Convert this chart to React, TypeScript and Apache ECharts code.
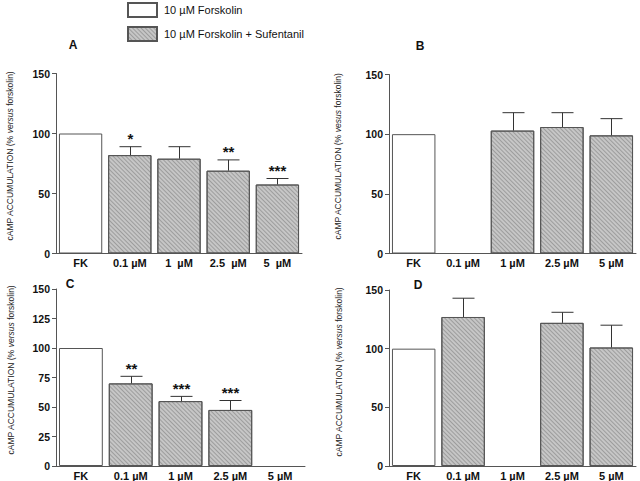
import React, { useEffect, useRef } from "react";
import * as echarts from "echarts";

// ---- data ----
const catsA = ["FK", "0.1 µM", "1  µM", "2.5  µM", "5  µM"];
const cats = ["FK", "0.1 µM", "1 µM", "2.5 µM", "5 µM"];

const meanA = [100, 82, 79, 69, 57.5];
const errA = [null, 7, 10, 9, 5];
const sigA = ["", "*", "", "**", "***"];

const meanB = [100, null, 103, 106, 99];
const errB = [null, null, 15, 12, 14];
const sigB = ["", "", "", "", ""];

const meanC = [100, 70, 55, 47.5, null];
const errC = [null, 6, 4, 8, null];
const sigC = ["", "**", "***", "***", ""];

const meanD = [100, 127, null, 122, 101];
const errD = [null, 16, null, 9, 19];
const sigD = ["", "", "", "", ""];

const ticksA = [0, 50, 100, 150];
const ticksC = [0, 25, 50, 75, 100, 125, 150];

const FK_NAME = "10 µM Forskolin";
const TR_NAME = "10 µM Forskolin + Sufentanil";

const FONT = "Liberation Sans, Arial, sans-serif";

type Panel = {
  label: string;
  cats: string[];
  mean: (number | null)[];
  err: (number | null)[];
  sig: string[];
  ticks: number[];
  versus: string;
  left: number;
  top: number;
  width: number;
  height: number;
  nameGap: number;
  namePad: number;
  labelX: number;
  labelY: number;
};

const panels: Panel[] = [
  { label: "A", cats: catsA, mean: meanA, err: errA, sig: sigA, ticks: ticksA, versus: "versus",
    left: 56, top: 73.5, width: 246, height: 180, nameGap: 42, namePad: 15, labelX: 73, labelY: 45 },
  { label: "B", cats: cats, mean: meanB, err: errB, sig: sigB, ticks: ticksA, versus: "vesus",
    left: 389, top: 74.5, width: 247, height: 179, nameGap: 47, namePad: 15, labelX: 420, labelY: 46 },
  { label: "C", cats: cats, mean: meanC, err: errC, sig: sigC, ticks: ticksC, versus: "versus",
    left: 56, top: 289, width: 249, height: 177.5, nameGap: 41, namePad: 15, labelX: 70, labelY: 284 },
  { label: "D", cats: cats, mean: meanD, err: errD, sig: sigD, ticks: ticksA, versus: "versus",
    left: 389, top: 290, width: 247, height: 177.7, nameGap: 46, namePad: 12, labelX: 418, labelY: 285 },
];

function buildOption() {
  const grid: any[] = [];
  const xAxis: any[] = [];
  const yAxis: any[] = [];
  const series: any[] = [];
  const graphic: any[] = [];

  panels.forEach((p, k) => {
    grid.push({ left: p.left, top: p.top, width: p.width, height: p.height, containLabel: false });
    xAxis.push({
      type: "category",
      gridIndex: k,
      data: p.cats,
      axisLine: { show: true, lineStyle: { color: "#555", width: 1 } },
      axisTick: { show: false },
      axisLabel: { fontFamily: FONT, fontWeight: "bold", fontSize: 11, color: "#111", margin: 4, interval: 0 },
      splitLine: { show: false },
    });
    const interval = p.ticks[1] - p.ticks[0];
    yAxis.push({
      type: "value",
      gridIndex: k,
      min: p.ticks[0],
      max: p.ticks[p.ticks.length - 1],
      interval,
      axisLine: { show: true, lineStyle: { color: "#555", width: 1 } },
      axisTick: { show: true, length: 4, lineStyle: { color: "#555" } },
      axisLabel: { fontFamily: FONT, fontWeight: "bold", fontSize: 10.5, color: "#111", margin: 6 },
      splitLine: { show: false },
      name: "cAMP ACCUMULATION (% {i|" + p.versus + "} forskolin)",
      nameLocation: "middle",
      nameGap: p.nameGap,
      nameRotate: 90,
      nameTextStyle: {
        fontFamily: FONT,
        fontSize: 8.5,
        color: "#222",
        padding: [0, 0, 0, p.namePad],
        rich: { i: { fontFamily: FONT, fontSize: 8.5, fontStyle: "italic", color: "#222" } },
      },
    });

    series.push({
      type: "bar",
      name: FK_NAME,
      xAxisIndex: k,
      yAxisIndex: k,
      data: p.mean.map((v, i) => (i === 0 ? v : null)),
      barWidth: "88%",
      barGap: "-100%",
      itemStyle: { color: "#ffffff", borderColor: "#555", borderWidth: 1 },
    });
    series.push({
      type: "bar",
      name: TR_NAME,
      xAxisIndex: k,
      yAxisIndex: k,
      data: p.mean.map((v, i) => (i === 0 ? null : v)),
      barWidth: "88%",
      barGap: "-100%",
      itemStyle: {
        color: "#c6c6c6",
        borderColor: "#555",
        borderWidth: 1,
        decal: {
          symbol: "rect",
          symbolSize: 1,
          dashArrayX: [1, 0],
          dashArrayY: [1, 2],
          rotation: Math.PI / 4,
          color: "rgba(80,80,80,0.35)",
        },
      },
    });

    const sig = p.sig;
    const errData: number[][] = [];
    p.mean.forEach((m, i) => {
      const e = p.err[i];
      if (m != null && e != null) errData.push([i, m, e]);
    });
    series.push({
      type: "custom",
      xAxisIndex: k,
      yAxisIndex: k,
      z: 5,
      data: errData,
      renderItem: (params: any, api: any) => {
        const i = api.value(0);
        const m = api.value(1);
        const e = api.value(2);
        const p0 = api.coord([i, m]);
        const p1 = api.coord([i, m + e]);
        const x = Math.round(p0[0]) + 0.5;
        const children: any[] = [
          { type: "line", shape: { x1: x, y1: p0[1], x2: x, y2: p1[1] }, style: { stroke: "#333", lineWidth: 1 } },
          { type: "line", shape: { x1: x - 11, y1: p1[1], x2: x + 11, y2: p1[1] }, style: { stroke: "#333", lineWidth: 1 } },
        ];
        const s = sig[i];
        if (s) {
          children.push({
            type: "text",
            x: x,
            y: p1[1] - 8,
            style: {
              text: s,
              fontFamily: FONT,
              fontWeight: "bold",
              fontSize: 15,
              fill: "#111",
              align: "center",
              verticalAlign: "middle",
            },
          });
        }
        return { type: "group", children };
      },
    });

    graphic.push({
      type: "text",
      x: p.labelX,
      y: p.labelY,
      style: {
        text: p.label,
        fontFamily: FONT,
        fontWeight: "bold",
        fontSize: 12,
        fill: "#111",
        align: "center",
        verticalAlign: "middle",
      },
    });
  });

  return {
    animation: false,
    backgroundColor: "#ffffff",
    textStyle: { fontFamily: FONT },
    legend: {
      data: [FK_NAME, TR_NAME],
      orient: "vertical",
      icon: "rect",
      left: 127,
      top: 2,
      padding: 0,
      itemWidth: 29,
      itemHeight: 14,
      itemGap: 8,
      selectedMode: false,
      textStyle: { fontFamily: FONT, fontSize: 11, color: "#111", padding: [0, 0, 0, 2] },
    },
    grid,
    xAxis,
    yAxis,
    series,
    graphic,
  };
}

export default function App() {
  const ref = useRef<HTMLDivElement>(null);
  useEffect(() => {
    if (!ref.current) return;
    const chart = echarts.init(ref.current, undefined, { renderer: "svg" });
    chart.setOption(buildOption() as any);
    return () => chart.dispose();
  }, []);
  return (
    <div
      ref={ref}
      style={{ position: "fixed", left: 0, top: 0, width: 640, height: 481, background: "#fff" }}
    />
  );
}
